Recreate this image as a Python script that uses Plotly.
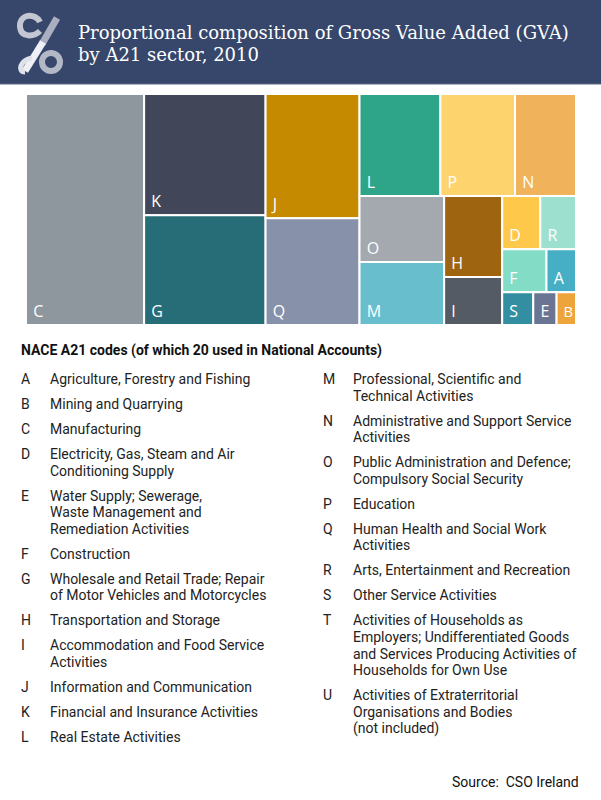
import plotly.graph_objects as go

# GVA share by A21 sector, 2010 (percent)
sectors = ["C", "K", "G", "J", "Q", "L", "P", "N", "O", "M",
           "H", "I", "D", "R", "F", "A", "S", "E", "B"]
shares = [21.5, 11.6, 10.5, 9.2, 7.9, 6.5, 6.0, 4.9, 4.4, 4.2,
          3.7, 2.2, 1.6, 1.5, 1.5, 1.0, 0.8, 0.6, 0.5]
tile_colors = ["#8e969e", "#414759", "#266d78", "#c68a00", "#8891aa",
               "#2ea588", "#fdd36e", "#f0b25b", "#a3a9af", "#69bece",
               "#9e640f", "#545b64", "#fec84a", "#9de0d0", "#82dcc6",
               "#46afc5", "#348ea2", "#6a7594", "#eda43a"]

# legend: NACE A21 codes and their descriptions (lines split as shown)
left_codes = ["A", "B", "C", "D", "E", "F", "G", "H", "I", "J", "K", "L"]
left_names = [
    ["Agriculture, Forestry and Fishing"],
    ["Mining and Quarrying"],
    ["Manufacturing"],
    ["Electricity, Gas, Steam and Air", "Conditioning Supply"],
    ["Water Supply; Sewerage,", "Waste Management and", "Remediation Activities"],
    ["Construction"],
    ["Wholesale and Retail Trade; Repair", "of Motor Vehicles and Motorcycles"],
    ["Transportation and Storage"],
    ["Accommodation and Food Service", "Activities"],
    ["Information and Communication"],
    ["Financial and Insurance Activities"],
    ["Real Estate Activities"],
]
right_codes = ["M", "N", "O", "P", "Q", "R", "S", "T", "U"]
right_names = [
    ["Professional, Scientific and", "Technical Activities"],
    ["Administrative and Support Service", "Activities"],
    ["Public Administration and Defence;", "Compulsory Social Security"],
    ["Education"],
    ["Human Health and Social Work", "Activities"],
    ["Arts, Entertainment and Recreation"],
    ["Other Service Activities"],
    ["Activities of Households as", "Employers; Undifferentiated Goods",
     "and Services Producing Activities of", "Households for Own Use"],
    ["Activities of Extraterritorial", "Organisations and Bodies", "(not included)"],
]

title_lines = ["Proportional composition of Gross Value Added (GVA)",
               "by A21 sector, 2010"]
legend_title = "NACE A21 codes (of which 20 used in National Accounts)"
source_text = "Source:  CSO Ireland"

W, H = 601, 800


def px(x):
    return x / W


def py(y):
    return 1 - y / H


fig = go.Figure(go.Treemap(
    labels=sectors,
    parents=[""] * len(sectors),
    values=shares,
    sort=True,
    marker=dict(colors=tile_colors, line=dict(color="white", width=2),
                pad=dict(t=0, l=0, r=0, b=0)),
    texttemplate="\u00a0%{label}",
    textposition="bottom left",
    textfont=dict(family="Open Sans", size=16, color="white"),
    tiling=dict(packing="squarify", squarifyratio=1.05, pad=0),
    pathbar=dict(visible=False),
    hoverinfo="label+value",
    domain=dict(x=[px(26), px(576)], y=[py(325), py(94)]),
))

shapes = []
# header band
shapes.append(dict(type="rect", xref="paper", yref="paper", x0=0, x1=1,
                   y0=py(84), y1=1, fillcolor="#37466b", line_width=0, layer="below"))
shapes.append(dict(type="line", xref="paper", yref="paper", x0=0, x1=1,
                   y0=py(84), y1=py(84), line=dict(color="#5d6885", width=1)))

# logo, rough drawing
def path(points):
    s = "M %f,%f" % (px(points[0][0]), py(points[0][1]))
    for i in range(1, len(points), 3):
        (a, b), (c, d), (e, f) = points[i:i + 3]
        s += " C %f,%f %f,%f %f,%f" % (px(a), py(b), px(c), py(d), px(e), py(f))
    return s

shapes.append(dict(type="path", xref="paper", yref="paper",
                   path=path([(40, 22), (36, 13), (19, 13), (20, 27),
                              (21, 38), (34, 37), (40, 31)]),
                   line=dict(color="#c3c7d2", width=6)))
shapes.append(dict(type="circle", xref="paper", yref="paper",
                   x0=px(42), x1=px(60), y0=py(53), y1=py(71),
                   line=dict(color="#b3b8c7", width=6)))
shapes.append(dict(type="line", xref="paper", yref="paper",
                   x0=px(57), y0=py(18), x1=px(42), y1=py(44),
                   line=dict(color="#a9afc0", width=7)))
shapes.append(dict(type="line", xref="paper", yref="paper",
                   x0=px(43), y0=py(42), x1=px(25), y1=py(71),
                   line=dict(color="#eef0f5", width=7)))
shapes.append(dict(type="path", xref="paper", yref="paper",
                   path=path([(32, 58), (20, 60), (17, 72), (25, 72)]),
                   line=dict(color="#dfe2ea", width=5)))

annotations = []
for i, line in enumerate(title_lines):
    annotations.append(dict(text=line, x=px(76), y=py(32 + i * 22), xref="paper", yref="paper",
                            xanchor="left", yanchor="middle", showarrow=False,
                            font=dict(family="DejaVu Serif", size=18, color="white")))

annotations.append(dict(text="<b>" + legend_title + "</b>", x=px(19), y=py(350),
                        xref="paper", yref="paper", xanchor="left", yanchor="middle",
                        showarrow=False, font=dict(family="Roboto", size=14, color="#111111")))


def add_column(codes, names, x_code, x_name, y_start):
    y = y_start
    for code, lines in zip(codes, names):
        annotations.append(dict(text=code, x=px(x_code), y=py(y), xref="paper", yref="paper",
                                xanchor="left", yanchor="middle", showarrow=False,
                                font=dict(family="Roboto", size=14, color="#222222")))
        for j, ln in enumerate(lines):
            annotations.append(dict(text=ln, x=px(x_name), y=py(y + j * 16.6),
                                    xref="paper", yref="paper", xanchor="left",
                                    yanchor="middle", showarrow=False,
                                    font=dict(family="Roboto", size=14, color="#222222")))
        y += (len(lines) - 1) * 16.6 + 25


add_column(left_codes, left_names, 19, 48, 379)
add_column(right_codes, right_names, 321, 351, 379)

annotations.append(dict(text=source_text, x=px(581), y=py(782), xref="paper", yref="paper",
                        xanchor="right", yanchor="middle", showarrow=False,
                        font=dict(family="Roboto", size=14, color="#111111")))

fig.update_layout(
    width=W, height=H,
    margin=dict(l=0, r=0, t=0, b=0),
    paper_bgcolor="white",
    shapes=shapes,
    annotations=annotations,
    showlegend=False,
)

# drop the page's default body margin so the figure sits at the window corner
fig.write_html("out.html", config={"displayModeBar": False},
               post_script="document.body.style.margin='0';")
